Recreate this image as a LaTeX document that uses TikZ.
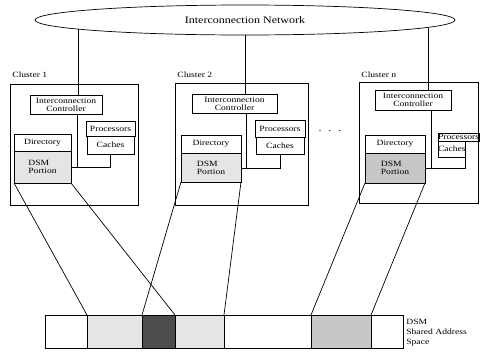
\documentclass[tikz,border=0pt]{standalone}
\usepackage{fontspec}
\setmainfont{Liberation Serif}[FakeStretch=1.2]
\usetikzlibrary{shapes.geometric}
\begin{document}
\begin{tikzpicture}[x=1pt,y=-1pt,line width=0.7pt,
	box/.style={draw,inner sep=0pt,outer sep=0pt,anchor=north west,align=center,font=\fontsize{8}{8}\selectfont},
	seg/.style={draw,inner sep=0pt,outer sep=0pt,anchor=north west,minimum height=33},
	lbl/.style={inner sep=0pt,anchor=west,font=\fontsize{8}{8}\selectfont}]
	\useasboundingbox (0,0) rectangle (480,354);
	% network
	\node[draw,ellipse,inner sep=0pt,outer sep=0pt,minimum width=420,minimum height=30,font=\fontsize{10}{10}\selectfont] (net) at (245,20) {Interconnection Network};
	% cluster 1
	\node[box,minimum width=128,minimum height=121] (c1) at (10,84) {};
	\node[lbl] (c1lbl) at (12,75) {Cluster 1};
	\node[box,minimum width=72,minimum height=19] (c1ctrl) at (30,95) {Interconnection\\Controller};
	\node[box,minimum width=49,minimum height=15] (c1proc) at (86,121) {Processors};
	\node[box,minimum width=47,minimum height=18] (c1cache) at (87,136) {Caches};
	\node[box,minimum width=57,minimum height=17] (c1dir) at (14,134) {Directory};
	\node[box,minimum width=57,minimum height=32,fill=black!10,align=left] (c1dsm) at (14,151) {DSM\\Portion};
	\coordinate (c1top) at (78,29);
	\coordinate (c1bus) at (77,167);
	\draw (c1top) -- (c1top |- c1ctrl.north);
	\draw (c1bus |- c1ctrl.south) -- (c1bus) -- (c1bus -| c1cache.south) -- (c1cache.south);
	\draw (c1dsm.east |- c1bus) -- (c1bus);
	% cluster 2
	\node[box,minimum width=133,minimum height=122] (c2) at (175,83) {};
	\node[lbl] (c2lbl) at (177,75) {Cluster 2};
	\node[box,minimum width=85,minimum height=19] (c2ctrl) at (192,94) {Interconnection\\Controller};
	\node[box,minimum width=50,minimum height=17] (c2proc) at (255,120) {Processors};
	\node[box,minimum width=48,minimum height=17] (c2cache) at (256,137) {Caches};
	\node[box,minimum width=60,minimum height=18] (c2dir) at (181,135) {Directory};
	\node[box,minimum width=60,minimum height=29,fill=black!10,align=left] (c2dsm) at (181,153) {DSM\\Portion};
	\coordinate (c2bus) at (246,168);
	\draw (net.south) -- (net.south |- c2ctrl.north);
	\draw (c2bus |- c2ctrl.south) -- (c2bus) -- (c2bus -| c2cache.south) -- (c2cache.south);
	\draw (c2dsm.east |- c2bus) -- (c2bus);
	\node (dots) at (330,131) {.\hspace{7pt}.\hspace{7pt}.};
	% cluster n
	\node[box,minimum width=119,minimum height=121] (cn) at (359,82) {};
	\node[lbl] (cnlbl) at (361,75) {Cluster n};
	\node[box,minimum width=76,minimum height=20] (cnctrl) at (375,90) {Interconnection\\Controller};
	\node[box,minimum width=40,minimum height=8] (cnproc) at (438,133) {Processors};
	\node[box,minimum width=27,minimum height=16] (cncache) at (438,141) {Caches};
	\node[box,minimum width=60,minimum height=18] (cndir) at (365,135) {Directory};
	\node[box,minimum width=60,minimum height=30,fill=black!22,align=left] (cndsm) at (365,153) {DSM\\Portion};
	\coordinate (cntop) at (428,27.5);
	\coordinate (cnbus) at (431,168);
	\draw (cntop) -- (cntop |- cnctrl.north);
	\draw (cnbus |- cnctrl.south) -- (cnbus) -- (cnbus -| cncache.south east) -- (cncache.south east);
	\draw (cndsm.east |- cnbus) -- (cnbus);
	% shared address space
	\node[seg,minimum width=42] (s0) at (45,315) {};
	\node[seg,minimum width=55,fill=black!10] (s1) at (87,315) {};
	\node[seg,minimum width=33,fill=black!70] (s2) at (142,315) {};
	\node[seg,minimum width=49,fill=black!10] (s3) at (175,315) {};
	\node[seg,minimum width=87] (s4) at (224,315) {};
	\node[seg,minimum width=60,fill=black!22] (s5) at (311,315) {};
	\node[seg,minimum width=32] (s6) at (371,315) {};
	\node[inner sep=0pt,anchor=north west,align=left,font=\fontsize{8}{10}\selectfont] (dsmlbl) at (406,319) {DSM\\Shared Address\\Space};
	\draw (c1dsm.south west) -- (s1.north west);
	\draw (c1dsm.south east) -- (s3.north west);
	\draw (c2dsm.south west) -- (s2.north west);
	\draw (c2dsm.south east) -- (s4.north west);
	\draw (cndsm.south west) -- (s5.north west);
	\draw (cndsm.south east) -- (s6.north west);
\end{tikzpicture}
\end{document}
